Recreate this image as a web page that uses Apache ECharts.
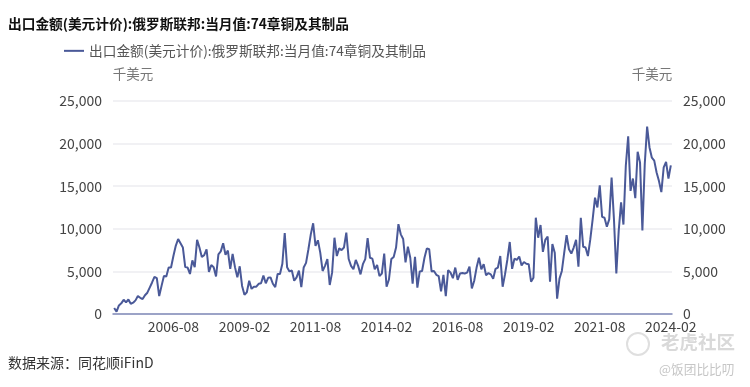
<!DOCTYPE html>
<html><head><meta charset="utf-8">
<style>html,body{margin:0;padding:0;background:#fff}#c{width:750px;height:387px}</style>
<script src="https://cdn.jsdelivr.net/npm/echarts@6/dist/echarts.min.js"></script>
</head><body><div id="c"></div>
<script>
const titleText = '出口金额(美元计价):俄罗斯联邦:当月值:74章铜及其制品';
const seriesName = '出口金额(美元计价):俄罗斯联邦:当月值:74章铜及其制品';
const unitName = '千美元';
const sourceText = '数据来源：同花顺iFinD';
const tickLabels = ['2006-08','2009-02','2011-08','2014-02','2016-08','2019-02','2021-08','2024-02'];
const firstYear = 2004, firstMonth = 7;
const values = [
700,270,1000,1250,1680,1370,1700,1200,1330,1600,2100,1900,1750,2200,2500,3100,3700,4350,4200,2100,
3300,4450,4400,5450,5450,6800,8000,8800,8300,7800,5500,5450,4700,6300,5500,8700,7800,6700,6900,7600,
4950,5750,5500,4400,7000,7350,8300,6950,7450,5300,7050,5500,4300,5600,3300,2250,2550,3900,2950,3200,
3200,3550,3600,4500,3600,4250,4300,3550,3150,4700,4700,5900,9500,5500,5000,5100,3900,4300,5100,3150,
5450,6000,7600,9350,10650,8000,8650,7200,5050,5650,6450,3400,4850,8950,6800,7700,7500,7800,9550,6450,
5650,5250,6350,5650,4650,5850,6450,8900,6600,6500,5250,5750,4450,4750,7100,3200,4050,6450,6700,7800,
10550,9350,8800,6050,7900,6600,3550,6700,3100,5000,5050,6600,7700,7600,5000,5050,4600,4450,2650,4600,
2100,5150,4850,4200,5450,4000,4750,4800,4750,4850,5550,3000,3900,5450,6600,5250,5850,4550,4800,4650,
4150,5300,5450,6800,3200,4650,6400,8450,5300,6500,6350,6750,5700,6100,5900,5850,3800,4250,11300,8950,
10450,7300,8700,9100,3800,8200,7200,1800,4150,5050,7200,9250,7600,7100,7800,8700,5550,11300,7900,7800,
6800,8750,11100,13650,12500,15100,11400,11300,10250,11100,16000,11100,4750,9750,13100,10500,17400,20850,14450,15900,
13600,19050,17800,9800,17600,22000,19550,18350,18000,16600,15600,14300,17200,17850,15900,17450
];
const months = values.map((_, i) => {
  const t = firstYear * 12 + firstMonth - 1 + i;
  return Math.floor(t / 12) + '-' + String(t % 12 + 1).padStart(2, '0');
});
const FONT = '"Noto Sans CJK SC","Noto Sans",sans-serif';
const LINE = '#4a5998';
const chart = echarts.init(document.getElementById('c'), null, {renderer:'canvas'});
const yAxisBase = {
  type:'value', min:0, max:25000, interval:5000,
  name:unitName, nameLocation:'end', nameGap:20,
  axisLine:{show:false}, axisTick:{show:false},
  axisLabel:{color:'#444', fontSize:14, fontFamily:FONT, margin:11,
    formatter:v => v.toLocaleString('en-US')},
  splitLine:{lineStyle:{color:'#f1f1f3', width:1.5}}
};
chart.setOption({
  animation:false,
  backgroundColor:'#fff',
  title:{text:titleText, left:8, top:17, padding:0,
    textStyle:{fontSize:13.7, fontWeight:'bold', color:'#111', fontFamily:FONT}},
  legend:{left:64, top:44, padding:0, itemWidth:20, itemHeight:2, itemGap:5,
    icon:'rect',
    textStyle:{fontSize:13.7, color:'#555', fontFamily:FONT},
    data:[{name:seriesName}]},
  grid:{left:113, right:78, top:101, bottom:73},
  xAxis:{type:'category', data:months, boundaryGap:true,
    axisLine:{lineStyle:{color:'#8089b8', width:1.5}}, axisTick:{show:false},
    axisLabel:{color:'#444', fontSize:14, fontFamily:FONT, margin:6, hideOverlap:false,
      interval:(i, v) => tickLabels.includes(v)},
    splitLine:{show:false}},
  yAxis:[
    Object.assign({}, yAxisBase, {position:'left',
      nameTextStyle:{color:'#777', fontSize:13.5, fontFamily:FONT, align:'center', padding:[0,0,0,40]}}),
    Object.assign({}, yAxisBase, {position:'right',
      nameTextStyle:{color:'#777', fontSize:13.5, fontFamily:FONT, align:'center', padding:[0,40,0,0]}})
  ],
  series:[{name:seriesName, type:'line', data:values, yAxisIndex:0, showSymbol:false, symbol:'none',
    lineStyle:{color:LINE, width:2}, itemStyle:{color:LINE}}],
  graphic:[
    {type:'text', left:8, top:356, style:{text:sourceText, fill:'#333', font:'14px '+FONT}},
    {type:'text', left:661, top:333, style:{text:'老虎社区', fill:'#d9d9d9', font:'bold 18.5px '+FONT}},
    {type:'text', left:659, top:363, style:{text:'@饭团比比叨', fill:'#c6c6c6', font:'12.7px '+FONT}},
    {type:'circle', shape:{cx:638, cy:344, r:11}, style:{fill:'none', stroke:'#dfdfdf', lineWidth:2}}
  ]
});
</script></body></html>
